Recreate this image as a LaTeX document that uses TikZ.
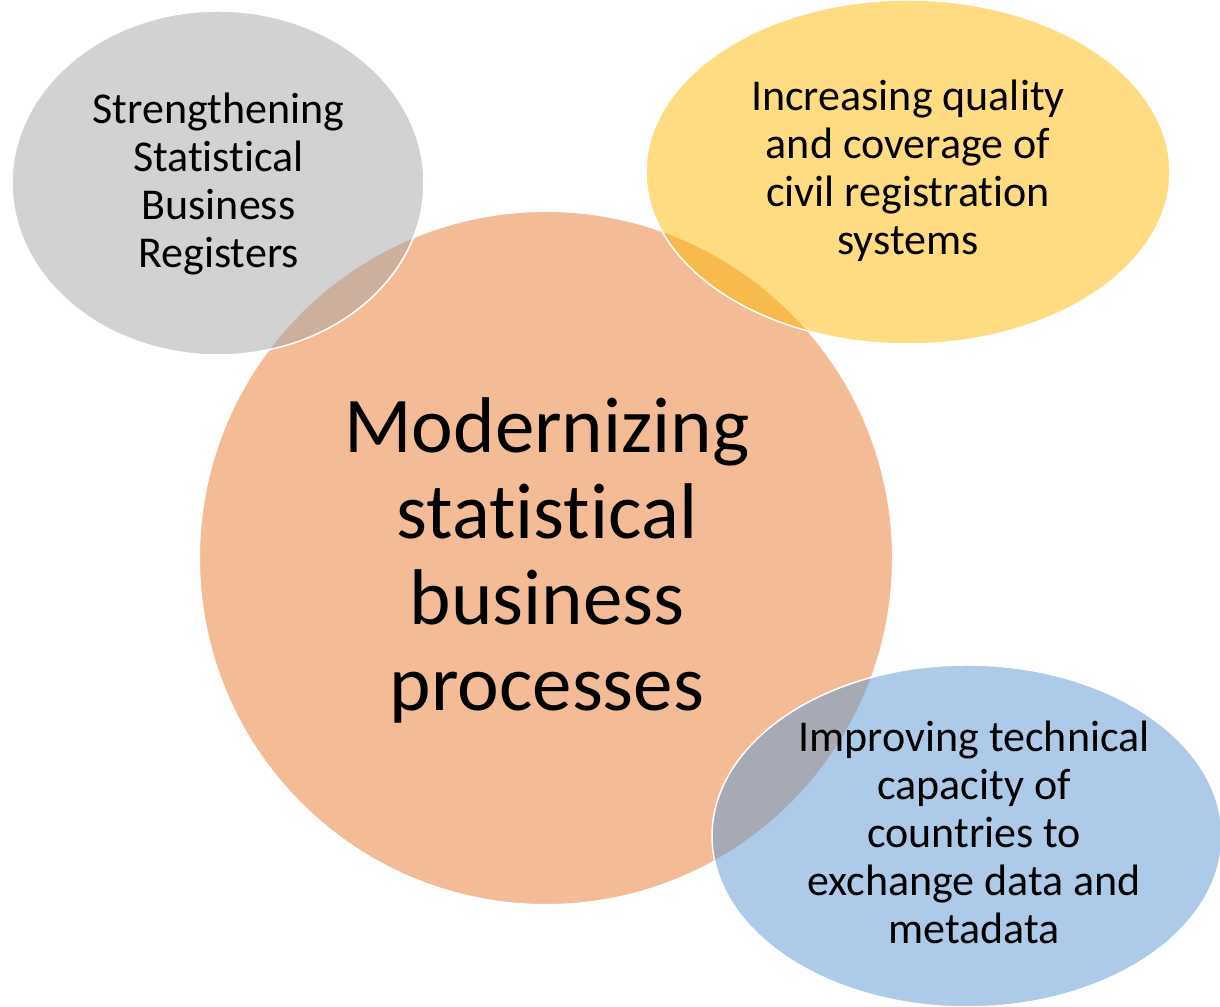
\documentclass[tikz,border=0pt]{standalone}
\usepackage{fontspec}
\setmainfont[Ligatures=NoCommon]{Carlito}
\usetikzlibrary{shapes.geometric}
\definecolor{coreC}{HTML}{F4BC96}
\definecolor{greyC}{HTML}{A5A5A5}
\definecolor{yellowC}{HTML}{FFB905}
\definecolor{blueC}{HTML}{5B97D3}
\tikzset{
  x=1pt, y=1pt,
  bubble/.style={ellipse, draw=white, line width=1.5pt, fill opacity=0.5, draw opacity=1, inner sep=0pt},
  smalltxt/.style={align=center, inner sep=0pt, font=\fontsize{44}{48}\selectfont},
  bigtxt/.style={align=center, inner sep=0pt, font=\fontsize{79}{86}\selectfont},
}
\begin{document}
\begin{tikzpicture}
\useasboundingbox (0,0) rectangle (1220,1006);
% central circle
\node[circle, fill=coreC, draw=white, line width=1pt, minimum size=693pt, inner sep=0pt] (core) at (546,448) {};
% satellite ellipses
\node[bubble, fill=greyC, minimum width=412pt, minimum height=344pt] (grey) at (218,823) {};
\node[bubble, fill=yellowC, minimum width=524pt, minimum height=344pt] (yellow) at (908,834) {};
\node[bubble, fill=blueC, minimum width=510pt, minimum height=342pt] (blue) at (967,170) {};
% texts
\node[bigtxt] (coretxt) at (547,446) {Modernizing\\statistical\\business\\processes};
\node[smalltxt] (greytxt) at (218.5,822) {Strengthening\\Statistical\\Business\\Registers};
\node[smalltxt] (yellowtxt) at (908,835) {Increasing quality\\and coverage of\\civil registration\\systems};
\node[smalltxt] (bluetxt) at (974,173.5) {Improving technical\\capacity of\\countries to\\exchange data and\\metadata};
\end{tikzpicture}
\end{document}
